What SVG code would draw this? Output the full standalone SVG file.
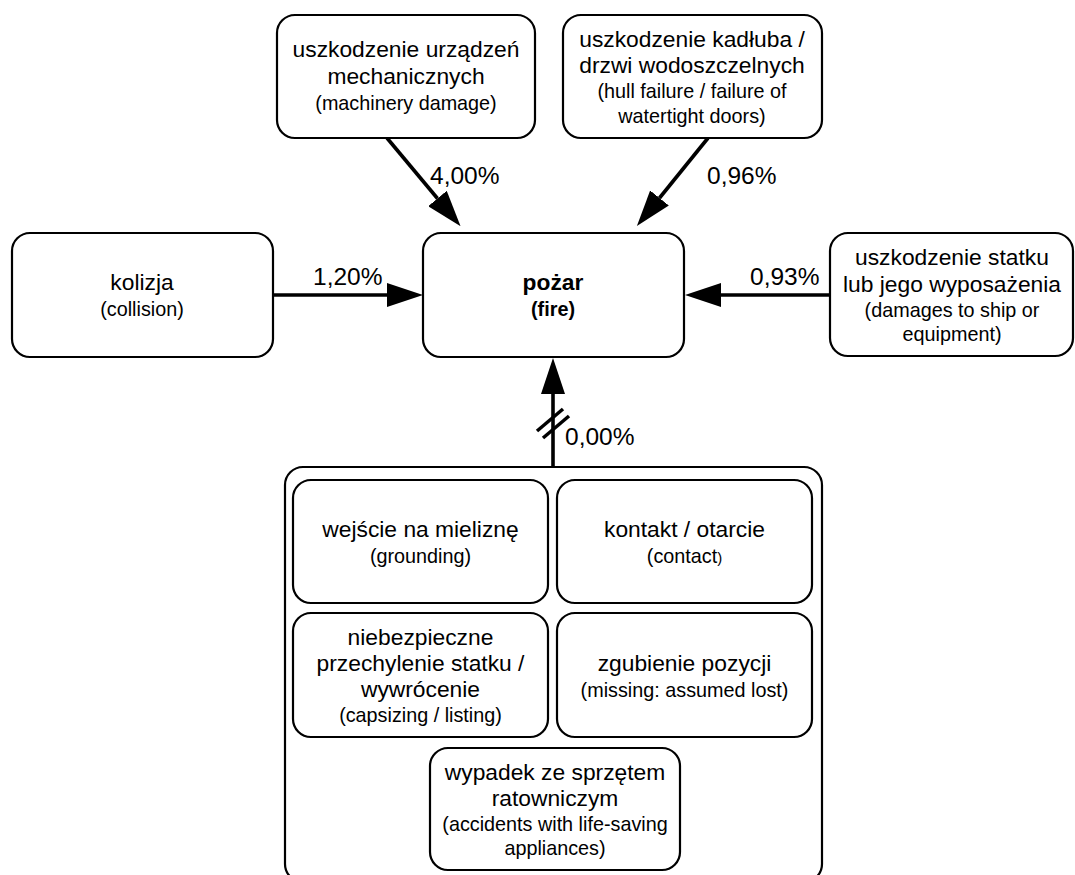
<svg xmlns="http://www.w3.org/2000/svg" width="1075" height="875" viewBox="0 0 1075 875">
<defs>
<style>
.box{fill:#fff;stroke:#000;stroke-width:2.2}
.t{font-family:"Liberation Sans",Arial,sans-serif;font-size:22.8px;fill:#000;text-anchor:middle}
.s{font-family:"Liberation Sans",Arial,sans-serif;font-size:19.8px;fill:#000;text-anchor:middle}
.b{font-weight:bold}
.lbl{font-family:"Liberation Sans",Arial,sans-serif;font-size:24.5px;fill:#000}
.conn{stroke:#000;stroke-width:3.6;fill:none}
</style>
<marker id="ah" markerUnits="userSpaceOnUse" markerWidth="36" markerHeight="24" viewBox="0 0 36 24" refX="0" refY="12" orient="auto">
<path d="M0,0 L36,12 L0,24 z" fill="#000"/>
</marker>
</defs>
<rect width="1075" height="875" fill="#fff"/>

<g id="connectors">
<line class="conn" x1="387" y1="138" x2="437.5" y2="198.5" marker-end="url(#ah)"/>
<line class="conn" x1="708" y1="138" x2="659.5" y2="198" marker-end="url(#ah)"/>
<line class="conn" x1="273" y1="295" x2="387" y2="295" marker-end="url(#ah)"/>
<line class="conn" x1="830" y1="295" x2="721" y2="295" marker-end="url(#ah)"/>
<line class="conn" x1="553" y1="467" x2="553" y2="394" marker-end="url(#ah)"/>
<line stroke="#000" stroke-width="3.5" x1="537" y1="431" x2="563" y2="409"/>
<line stroke="#000" stroke-width="3.5" x1="543" y1="438" x2="569" y2="416"/>
<text class="lbl" x="430" y="184">4,00%</text>
<text class="lbl" x="707" y="184">0,96%</text>
<text class="lbl" x="313" y="285">1,20%</text>
<text class="lbl" x="750" y="285">0,93%</text>
<text class="lbl" x="565" y="445">0,00%</text>
</g>

<g id="machinery">
<rect class="box" x="277" y="15" width="258" height="123" rx="18"/>
<text class="t" x="406" y="57">uszkodzenie urządzeń</text>
<text class="t" x="406" y="84">mechanicznych</text>
<text class="s" x="406" y="110">(machinery damage)</text>
</g>

<g id="hull">
<rect class="box" x="563" y="15" width="259" height="123" rx="18"/>
<text class="t" x="692" y="47">uszkodzenie kadłuba /</text>
<text class="t" x="692" y="73">drzwi wodoszczelnych</text>
<text class="s" x="692" y="98">(hull failure / failure of</text>
<text class="s" x="692" y="123">watertight doors)</text>
</g>

<g id="collision">
<rect class="box" x="12" y="233" width="261" height="124" rx="18"/>
<text class="t" x="142" y="290">kolizja</text>
<text class="s" x="142" y="316">(collision)</text>
</g>

<g id="fire">
<rect class="box" x="423" y="233" width="261" height="124" rx="18"/>
<text class="t b" x="553" y="290">pożar</text>
<text class="s b" x="553" y="316">(fire)</text>
</g>

<g id="ship-damage">
<rect class="box" x="830" y="233" width="243" height="123" rx="18"/>
<text class="t" x="952" y="265">uszkodzenie statku</text>
<text class="t" x="952" y="292">lub jego wyposażenia</text>
<text class="s" x="952" y="317">(damages to ship or</text>
<text class="s" x="952" y="341">equipment)</text>
</g>

<g id="group">
<rect class="box" x="285" y="467" width="537" height="415" rx="18"/>
</g>

<g id="grounding">
<rect class="box" x="293" y="480" width="255" height="123" rx="18"/>
<text class="t" x="420.5" y="537">wejście na mieliznę</text>
<text class="s" x="420.5" y="563">(grounding)</text>
</g>

<g id="contact">
<rect class="box" x="557" y="480" width="255" height="123" rx="18"/>
<text class="t" x="684.5" y="537">kontakt / otarcie</text>
<text class="s" x="684.5" y="563">(contact<tspan font-size="15">)</tspan></text>
</g>

<g id="capsizing">
<rect class="box" x="293" y="613" width="255" height="124" rx="18"/>
<text class="t" x="420.5" y="645">niebezpieczne</text>
<text class="t" x="420.5" y="671">przechylenie statku /</text>
<text class="t" x="420.5" y="697">wywrócenie</text>
<text class="s" x="420.5" y="722">(capsizing / listing)</text>
</g>

<g id="missing">
<rect class="box" x="557" y="613" width="255" height="124" rx="18"/>
<text class="t" x="684.5" y="671">zgubienie pozycji</text>
<text class="s" x="684.5" y="697">(missing: assumed lost)</text>
</g>

<g id="life-saving">
<rect class="box" x="430" y="748" width="250" height="122" rx="18"/>
<text class="t" x="555" y="780">wypadek ze sprzętem</text>
<text class="t" x="555" y="806">ratowniczym</text>
<text class="s" x="555" y="831">(accidents with life-saving</text>
<text class="s" x="555" y="855">appliances)</text>
</g>
</svg>
